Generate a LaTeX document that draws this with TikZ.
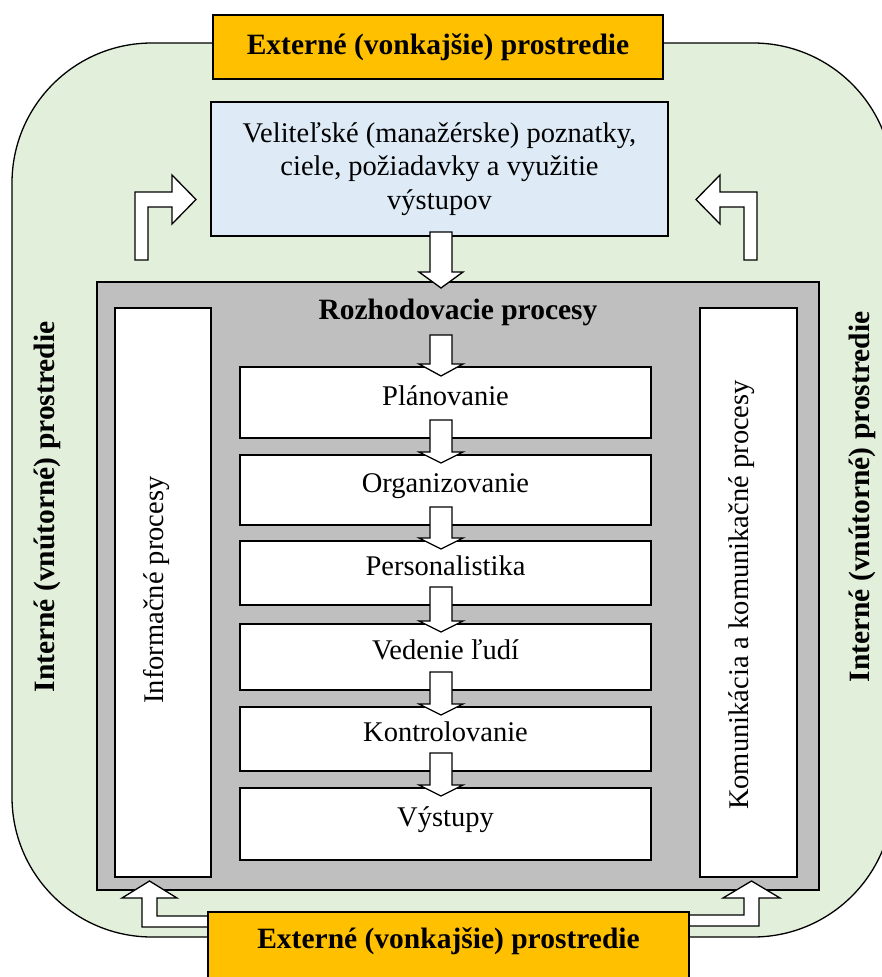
\documentclass[tikz,border=0pt]{standalone}
\usepackage{fontspec}
\setmainfont{Liberation Serif}
\definecolor{envgreen}{HTML}{E2EFDA}
\definecolor{extorange}{HTML}{FFC000}
\definecolor{mgmtblue}{HTML}{DEEBF7}
\definecolor{procgray}{HTML}{BFBFBF}
\tikzset{
  boxline/.style={draw=black, line width=1.3pt},
  extbox/.style={boxline, fill=extorange, font=\fontsize{29.5}{34}\selectfont\bfseries},
  bluebox/.style={boxline, fill=mgmtblue, align=center, font=\fontsize{28.5}{33.5}\selectfont},
  graybox/.style={boxline, fill=procgray},
  whitebox/.style={boxline, fill=white, font=\fontsize{28.5}{33.5}\selectfont},
  stagebox/.style={whitebox, minimum width=411pt, text height=19pt, text depth=14pt},
  blockarrow/.style={draw=black, line width=1.3pt, fill=white, line join=miter},
  boldlabel/.style={font=\fontsize{29.5}{34}\selectfont\bfseries},
  plainlabel/.style={font=\fontsize{28.5}{33.5}\selectfont},
}
\newcommand\downblock[4]{% cx, top, headbase, tip
  \draw[blockarrow] ({#1-11},#2) -- ({#1+11},#2) -- ({#1+11},#3) -- ({#1+22},#3)
    -- (#1,#4) -- ({#1-22},#3) -- ({#1-11},#3) -- cycle;}
\begin{document}
\begin{tikzpicture}[x=1pt, y=-1pt]
\path[use as bounding box] (0,0) rectangle (882,977);
% environment background
\begin{scope}
  \clip (0,0) rectangle (882,977);
  \draw[boxline, fill=envgreen, rounded corners=140pt] (12,43) rectangle (893,937);
\end{scope}
% side labels
\node[boldlabel, rotate=90] (intL) at (47,507) {Interné (vnútorné) prostredie};
\node[boldlabel, rotate=90] (intR) at (862,497) {Interné (vnútorné) prostredie};
% top external
\node[extbox, minimum width=450pt, minimum height=64pt] (extTop) at (438,47) {Externé (vonkajšie) prostredie};
% management box
\node[bluebox, minimum width=457pt, minimum height=134pt] (mgmt) at (439.5,169)
  {Veliteľské (manažérske) poznatky,\\ ciele, požiadavky a využitie\\ výstupov};
% L arrows
\draw[blockarrow] (135,260) -- (135,192) -- (172,192) -- (172,175) -- (196,199.5)
  -- (172,224) -- (172,207) -- (148,207) -- (148,260) -- cycle;
\draw[blockarrow] (757,260) -- (757,192) -- (720,192) -- (720,175) -- (696,199.5)
  -- (720,224) -- (720,207) -- (744,207) -- (744,260) -- cycle;
% gray process area
\node[graybox, minimum width=722pt, minimum height=608pt] (proc) at (458,586) {};
\downblock{441}{232}{272}{288}
\node[boldlabel] (decide) at (458,312) {Rozhodovacie procesy};
\node[whitebox, minimum width=96pt, minimum height=569pt] (info) at (163,592.5) {};
\node[plainlabel, rotate=90] (infoT) at (157,590) {Informačné procesy};
\node[whitebox, minimum width=97pt, minimum height=569pt] (comm) at (748.5,592.5) {};
\node[plainlabel, rotate=90] (commT) at (742,595) {Komunikácia a komunikačné procesy};
% stages
\node[stagebox, minimum height=71pt] (s1) at (445.5,402.5) {Plánovanie};
\node[stagebox, minimum height=70pt] (s2) at (445.5,490) {Organizovanie};
\node[stagebox, minimum height=64pt] (s3) at (445.5,573) {Personalistika};
\node[stagebox, minimum height=66pt] (s4) at (445.5,657) {Vedenie ľudí};
\node[stagebox, minimum height=64pt] (s5) at (445.5,739) {Kontrolovanie};
\node[stagebox, minimum height=72pt] (s6) at (445.5,824) {Výstupy};
\downblock{441}{335}{364}{376}
\downblock{441}{420}{452}{463}
\downblock{441}{507}{538}{549}
\downblock{441}{587}{621}{632}
\downblock{441}{672}{704}{715}
\downblock{441}{753}{785}{796}
% bottom arrows
\draw[blockarrow] (210,916) -- (157,916) -- (157,898) -- (177,898) -- (149.5,881)
  -- (122,898) -- (142,898) -- (142,927) -- (210,927);
\draw[blockarrow] (687,915) -- (744,915) -- (744,898) -- (723,898) -- (751.5,881)
  -- (780,898) -- (759,898) -- (759,926) -- (687,926);
% bottom external
\node[extbox, minimum width=481pt, minimum height=72pt] (extBot) at (448.5,948) {};
\node[boldlabel] (extBotT) at (448.5,941) {Externé (vonkajšie) prostredie};
\end{tikzpicture}
\end{document}
